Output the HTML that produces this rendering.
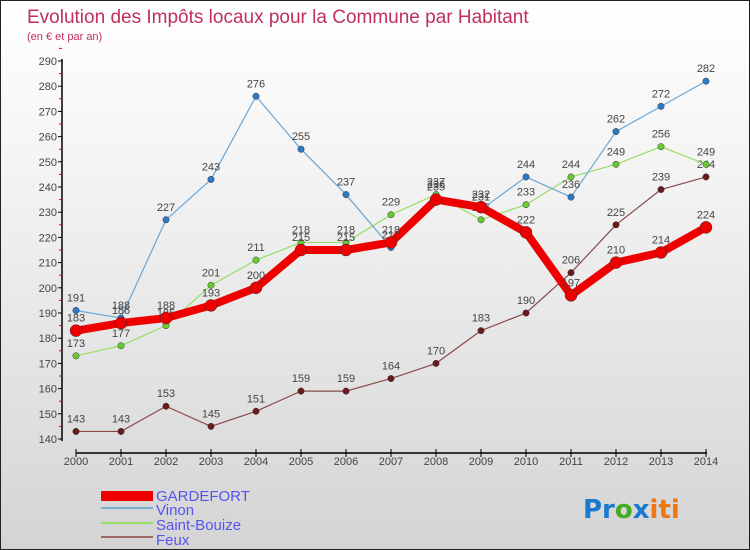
<!DOCTYPE html>
<html><head><meta charset="utf-8"><style>
body{margin:0}
#c{width:750px;height:550px;position:relative;overflow:hidden;box-sizing:border-box;border:1px solid #222;background:linear-gradient(#ffffff,#f2f2f2 35%,#d4d4d4);font-family:"Liberation Sans",sans-serif}
</style></head><body>
<div id="c">
<svg id="s" width="750" height="550" style="position:absolute;left:0;top:0">
<text x="26" y="22" font-size="19" fill="#c0305a">Evolution des Impôts locaux pour la Commune par Habitant</text>
<text x="26" y="39" font-size="11" fill="#c0305a">(en € et par an)</text>
<g id="axes"></g><g id="series"></g>
<g>
<rect x="100" y="490" width="52" height="10" fill="#e00"/>
<text x="155" y="500" font-size="15" fill="#5555ee">GARDEFORT</text>
<rect x="100" y="506" width="52" height="2" fill="#7aaed0"/>
<text x="155" y="514" font-size="15" fill="#5555ee">Vinon</text>
<rect x="100" y="521" width="52" height="2" fill="#99dd66"/>
<text x="155" y="529" font-size="15" fill="#5555ee">Saint-Bouize</text>
<rect x="100" y="535" width="52" height="2" fill="#996666"/>
<text x="155" y="544" font-size="15" fill="#5555ee">Feux</text>
</g>
<text x="582" y="517" font-size="26" font-weight="bold" font-family="'DejaVu Sans',sans-serif"><tspan fill="#1a7ad0">Pr</tspan><tspan fill="#44aa22">o</tspan><tspan fill="#1a7ad0">x</tspan><tspan fill="#ee7711">iti</tspan></text>
</svg>
</div>
<script>
const years=[2000,2001,2002,2003,2004,2005,2006,2007,2008,2009,2010,2011,2012,2013,2014];
const gardefort=[183,186,188,193,200,215,215,218,235,232,222,197,210,214,224];
const vinon=[191,188,227,243,276,255,237,216,236,231,244,236,262,272,282];
const saintBouize=[173,177,185,201,211,218,218,229,237,227,233,244,249,256,249];
const feux=[143,143,153,145,151,159,159,164,170,183,190,206,225,239,244];
const yTicks=[140,150,160,170,180,190,200,210,220,230,240,250,260,270,280,290];
const NS="http://www.w3.org/2000/svg";
const X=i=>75+i*(705-75)/14;
const Y=v=>438-(v-140)*(438-60)/150;
function mk(t,a,p){const e=document.createElementNS(NS,t);for(const k in a)e.setAttribute(k,a[k]);p.appendChild(e);return e;}
const ax=document.getElementById('axes'),sg=document.getElementById('series');
let l=mk('line',{x1:61,y1:58,x2:61,y2:440,stroke:'#000','stroke-width':1.5},ax);


l=mk('line',{x1:75,y1:452,x2:706,y2:452,stroke:'#000','stroke-width':1.5},ax);


yTicks.forEach(v=>{
 const t=mk('line',{x1:57,x2:61,y1:Y(v),y2:Y(v),stroke:'#000'},ax);
 
 
 const r=mk('line',{x1:58,x2:61,y1:Y(v+5),y2:Y(v+5),stroke:'#e00'},ax);
 
 
 const tx=mk('text',{x:56,y:Y(v)+4,'font-size':11,fill:'#444','text-anchor':'end'},ax);
 tx.textContent=v;
 
 
});
years.forEach((yr,i)=>{
 const t=mk('line',{x1:X(i),x2:X(i),y1:448,y2:456,stroke:'#000'},ax);
 
 
 const tx=mk('text',{x:X(i),y:464,'font-size':11,fill:'#444','text-anchor':'middle'},ax);
 tx.textContent=yr;
 
 
});
function series(d,name,col,dot,w,r){
 const g=mk('g',{},sg);
 
 
 const p=mk('polyline',{points:d.map((v,i)=>X(i)+','+Y(v)).join(' '),fill:'none',stroke:col,'stroke-width':w,'stroke-linejoin':'round'},g);
 
 
 d.forEach((v,i)=>{
  const c=mk('circle',{cx:X(i),cy:Y(v),r:r,fill:dot,stroke:'#333','stroke-width':0.5},g);
  
  
  const t=mk('text',{x:X(i),y:Y(v)-9,'font-size':11,fill:'#444','text-anchor':'middle'},g);
  t.textContent=v;
  
  
 });
}
series(feux,'feux','#8a4a4a','#6a1a1a',1.2,3.2);
series(saintBouize,'saint-bouize','#99dd66','#66cc33',1.2,3.2);
series(vinon,'vinon','#6aa6d6','#2a7ac6',1.2,3.2);
series(gardefort,'gardefort','#ee0000','#ee0000',8,6);
</script>
</body></html>
